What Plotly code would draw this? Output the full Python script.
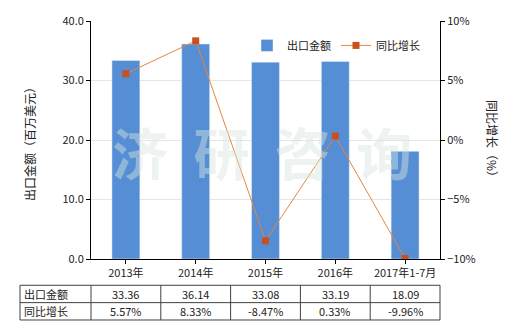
import plotly.graph_objects as go

categories = ["2013年", "2014年", "2015年", "2016年", "2017年1-7月"]
export_values = [33.36, 36.14, 33.08, 33.19, 18.09]
growth_values = [5.57, 8.33, -8.47, 0.33, -9.96]
row_labels = ["出口金额", "同比增长"]
export_text = ["33.36", "36.14", "33.08", "33.19", "18.09"]
growth_text = ["5.57%", "8.33%", "-8.47%", "0.33%", "-9.96%"]

FONT = "Noto Sans CJK SC, Microsoft YaHei, sans-serif"
W, H = 520, 330
L, R, T, B = 91, 80, 19, 71
pw = W - L - R
ph = H - T - B

fig = go.Figure()
fig.add_trace(go.Bar(x=categories, y=export_values, name="出口金额",
                     marker_color="#558ed5", width=0.4, yaxis="y"))
fig.add_trace(go.Scatter(x=categories, y=growth_values, name="同比增长", yaxis="y2",
                         mode="lines+markers",
                         line=dict(color="#e8843c", width=1),
                         marker=dict(symbol="square", size=7, color="#c9501c")))

def px2x(px):
    return (px - L) / pw

def py2y(py):
    return (H - B - py) / ph

shapes = []
annotations = []
n = len(categories)
# table lines
y_lines = [py2y(285.5), py2y(303), py2y(320.5)]
x_left = px2x(20)
for yl in y_lines:
    shapes.append(dict(type="line", xref="paper", yref="paper", x0=x_left, x1=1.0,
                       y0=yl, y1=yl, line=dict(color="#404040", width=1)))
x_bounds = [x_left] + [i / n for i in range(n + 1)]
for xb in x_bounds:
    shapes.append(dict(type="line", xref="paper", yref="paper", x0=xb, x1=xb,
                       y0=y_lines[0], y1=y_lines[2], line=dict(color="#404040", width=1)))
rows = [export_text, growth_text]
for r, (lab, vals) in enumerate(zip(row_labels, rows)):
    yc = (y_lines[r] + y_lines[r + 1]) / 2
    annotations.append(dict(text=lab, xref="paper", yref="paper", x=px2x(22), y=yc,
                            xanchor="left", yanchor="middle", showarrow=False,
                            font=dict(size=11, color="#222", family=FONT)))
    for i, v in enumerate(vals):
        annotations.append(dict(text=v, xref="paper", yref="paper", x=(i + 0.5) / n, y=yc,
                                xanchor="center", yanchor="middle", showarrow=False,
                                font=dict(size=11, color="#222", family=FONT)))

# axis titles
annotations.append(dict(text="出口金额（百万美元）", xref="paper", yref="paper",
                        x=px2x(30), y=py2y(140), textangle=-90, showarrow=False,
                        xanchor="center", yanchor="middle",
                        font=dict(size=12, color="#222", family=FONT)))
annotations.append(dict(text="同比增长（%）", xref="paper", yref="paper",
                        x=px2x(492), y=py2y(140), textangle=90, showarrow=False,
                        xanchor="center", yanchor="middle",
                        font=dict(size=12, color="#222", family=FONT)))
# watermark
annotations.append(dict(text="<b>济  研  咨  询</b>", xref="paper", yref="paper",
                        x=px2x(262), y=py2y(150), showarrow=False,
                        font=dict(size=56, color="rgba(215,228,222,0.45)", family=FONT)))

fig.update_layout(
    width=W, height=H,
    margin=dict(l=L, r=R, t=T, b=B),
    paper_bgcolor="white", plot_bgcolor="white",
    font=dict(family=FONT, size=11, color="#222"),
    bargap=0.6,
    showlegend=True,
    legend=dict(orientation="h", x=px2x(247), y=py2y(29), xanchor="left", yanchor="top",
                font=dict(size=11, family=FONT), bgcolor="rgba(0,0,0,0)",
                itemwidth=30, tracegroupgap=0),
    xaxis=dict(type="category", showline=True, linecolor="#000", linewidth=1,
               ticks="outside", ticklen=4, tickcolor="#000", showgrid=False,
               tickfont=dict(size=11), range=[-0.5, n - 0.5]),
    yaxis=dict(range=[0, 40], dtick=10, tickformat=".1f", showline=True,
               linecolor="#000", linewidth=1, ticks="outside", ticklen=4,
               tickcolor="#000", gridcolor="#e6e6e0", zeroline=False,
               tickfont=dict(size=11)),
    yaxis2=dict(range=[-10, 10], dtick=5, ticksuffix="%", overlaying="y", side="right",
                showline=True, linecolor="#000", linewidth=1, ticks="outside",
                ticklen=4, tickcolor="#000", showgrid=False, zeroline=False,
                tickfont=dict(size=11)),
    shapes=shapes,
    annotations=annotations,
)

fig.write_html("out.html")
